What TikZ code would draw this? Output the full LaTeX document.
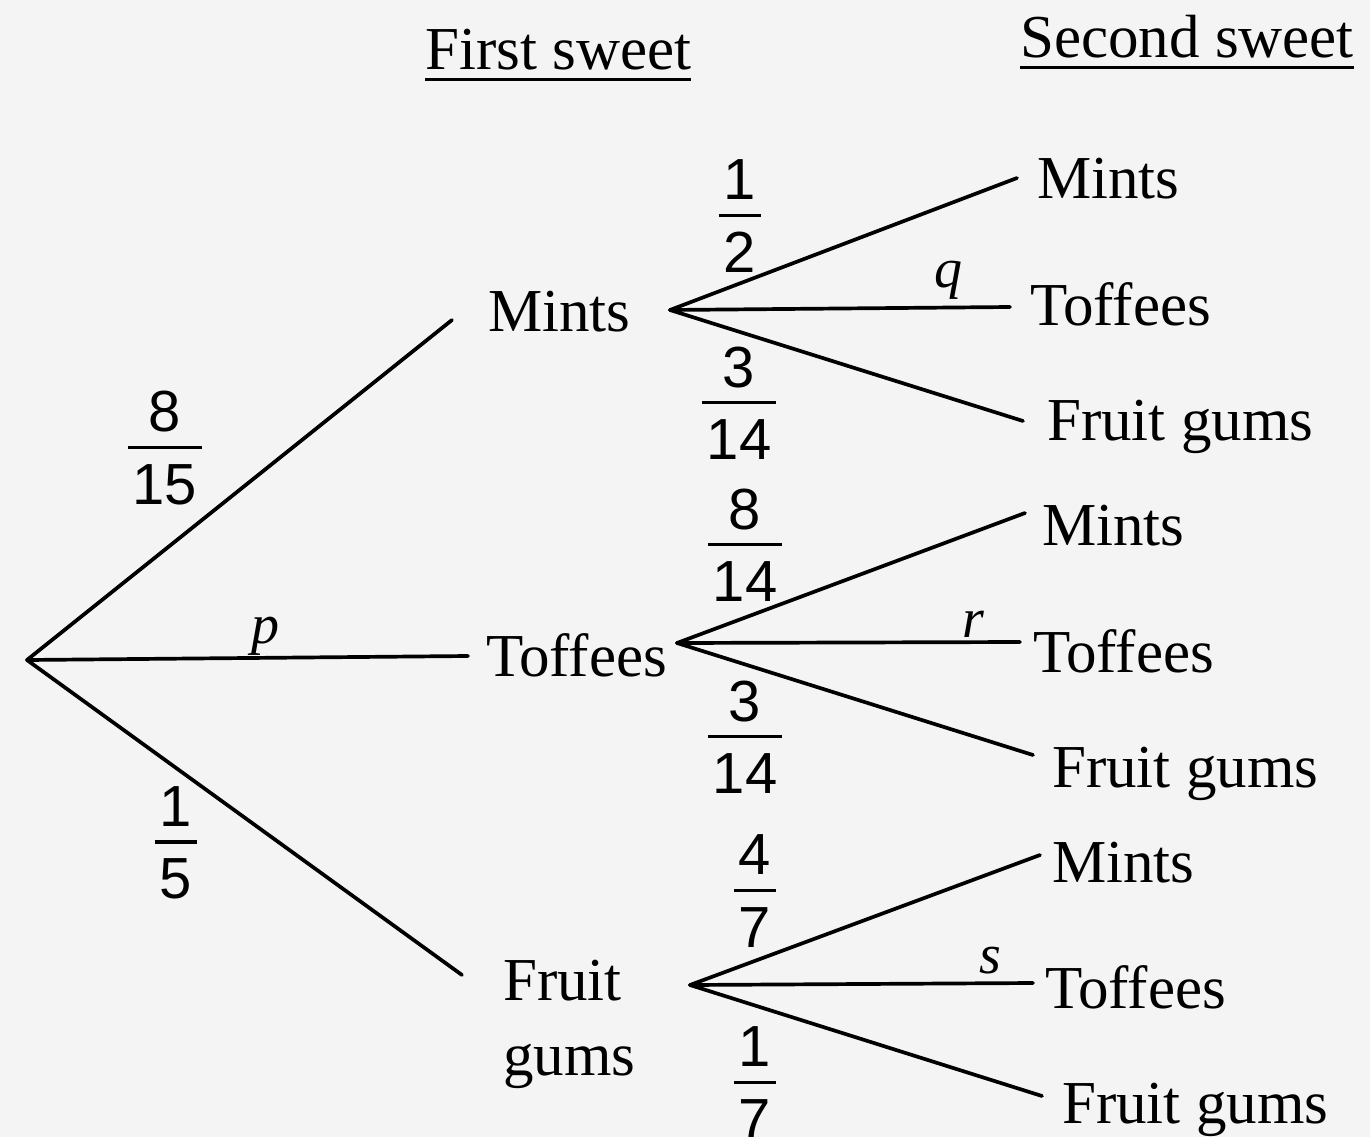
\documentclass[tikz,border=0pt]{standalone}
\usepackage{fontspec}
\setmainfont{Liberation Serif}
\newfontfamily\digitfont{Liberation Sans}
\definecolor{paper}{RGB}{244,244,244}
\newcommand\myfrac[2]{{\renewcommand\arraystretch{0}\setlength\arrayrulewidth{3.4pt}\begin{tabular}{@{\hspace{5pt}}c@{\hspace{5pt}}}\rule[-14pt]{0pt}{14pt}#1\\\hline\rule{0pt}{55pt}#2\end{tabular}}}
\tikzset{
  lbl/.style={font=\fontsize{61}{75}\selectfont, inner sep=0pt, anchor=base west},
  var/.style={font=\fontsize{56}{66}\selectfont\itshape, inner sep=0pt, anchor=base},
  frc/.style={font=\digitfont\fontsize{58}{70}\selectfont, inner sep=0pt, anchor=center},
  branch/.style={line width=3.7pt, line cap=round},
  uline/.style={line width=3pt}
}
\begin{document}
\begin{tikzpicture}[x=1pt,y=-1pt]
\fill[paper] (0,0) rectangle (1370,1137);
\useasboundingbox (0,0) rectangle (1370,1137);

% headers
\node[lbl] (h1) at (425,70) {First sweet};
\node[lbl] (h2) at (1020,58) {Second sweet};
\draw[uline] ([yshift=-10pt]h1.base west) -- ([yshift=-10pt]h1.base east);
\draw[uline] ([yshift=-10pt]h2.base west) -- ([yshift=-10pt]h2.base east);

% first level
\coordinate (O) at (27,660);
\coordinate (e1) at (452,320);
\coordinate (e2) at (468,656);
\coordinate (e3) at (462,975);
\draw[branch] (O) -- (e1);
\draw[branch] (O) -- (e2);
\draw[branch] (O) -- (e3);

\node[lbl] (m1) at (488,331) {Mints};
\node[lbl] (t1) at (486,676) {Toffees};
\node[lbl] (g1) at (503,1000) {\begin{tabular}[t]{@{}l@{}}Fruit\\gums\end{tabular}};

\node[frc] (f815) at (165,448) {\myfrac{8}{15}};
\node[var] (p) at (265,643) {p};
\node[frc] (f15) at (176,843) {\myfrac{1}{5}};

% second level: after Mints
\coordinate (vM) at (670,310);
\coordinate (aM1) at (1017,178);
\coordinate (aM2) at (1010,307);
\coordinate (aM3) at (1023,421);
\draw[branch] (vM) -- (aM1);
\draw[branch] (vM) -- (aM2);
\draw[branch] (vM) -- (aM3);
\node[lbl] (mm) at (1037,198) {Mints};
\node[lbl] (mt) at (1030,325) {Toffees};
\node[lbl] (mg) at (1047,440) {Fruit gums};
\node[frc] (f12) at (740,216) {\myfrac{1}{2}};
\node[var] (q) at (948,287) {q};
\node[frc] (f314a) at (739,403) {\myfrac{3}{14}};

% second level: after Toffees
\coordinate (vT) at (677,643);
\coordinate (aT1) at (1025,513);
\coordinate (aT2) at (1020,642);
\coordinate (aT3) at (1033,755);
\draw[branch] (vT) -- (aT1);
\draw[branch] (vT) -- (aT2);
\draw[branch] (vT) -- (aT3);
\node[lbl] (tm) at (1042,545) {Mints};
\node[lbl] (tt) at (1033,672) {Toffees};
\node[lbl] (tg) at (1052,787) {Fruit gums};
\node[frc] (f814) at (745,545) {\myfrac{8}{14}};
\node[var] (r) at (973,637) {r};
\node[frc] (f314b) at (745,737) {\myfrac{3}{14}};

% second level: after Fruit gums
\coordinate (vF) at (690,985);
\coordinate (aF1) at (1040,855);
\coordinate (aF2) at (1033,983);
\coordinate (aF3) at (1042,1096);
\draw[branch] (vF) -- (aF1);
\draw[branch] (vF) -- (aF2);
\draw[branch] (vF) -- (aF3);
\node[lbl] (fm) at (1052,882) {Mints};
\node[lbl] (ft) at (1045,1008) {Toffees};
\node[lbl] (fg) at (1062,1123) {Fruit gums};
\node[frc] (f47) at (755,891) {\myfrac{4}{7}};
\node[var] (s) at (990,973) {s};
\node[frc] (f17) at (755,1083) {\myfrac{1}{7}};
\end{tikzpicture}
\end{document}
